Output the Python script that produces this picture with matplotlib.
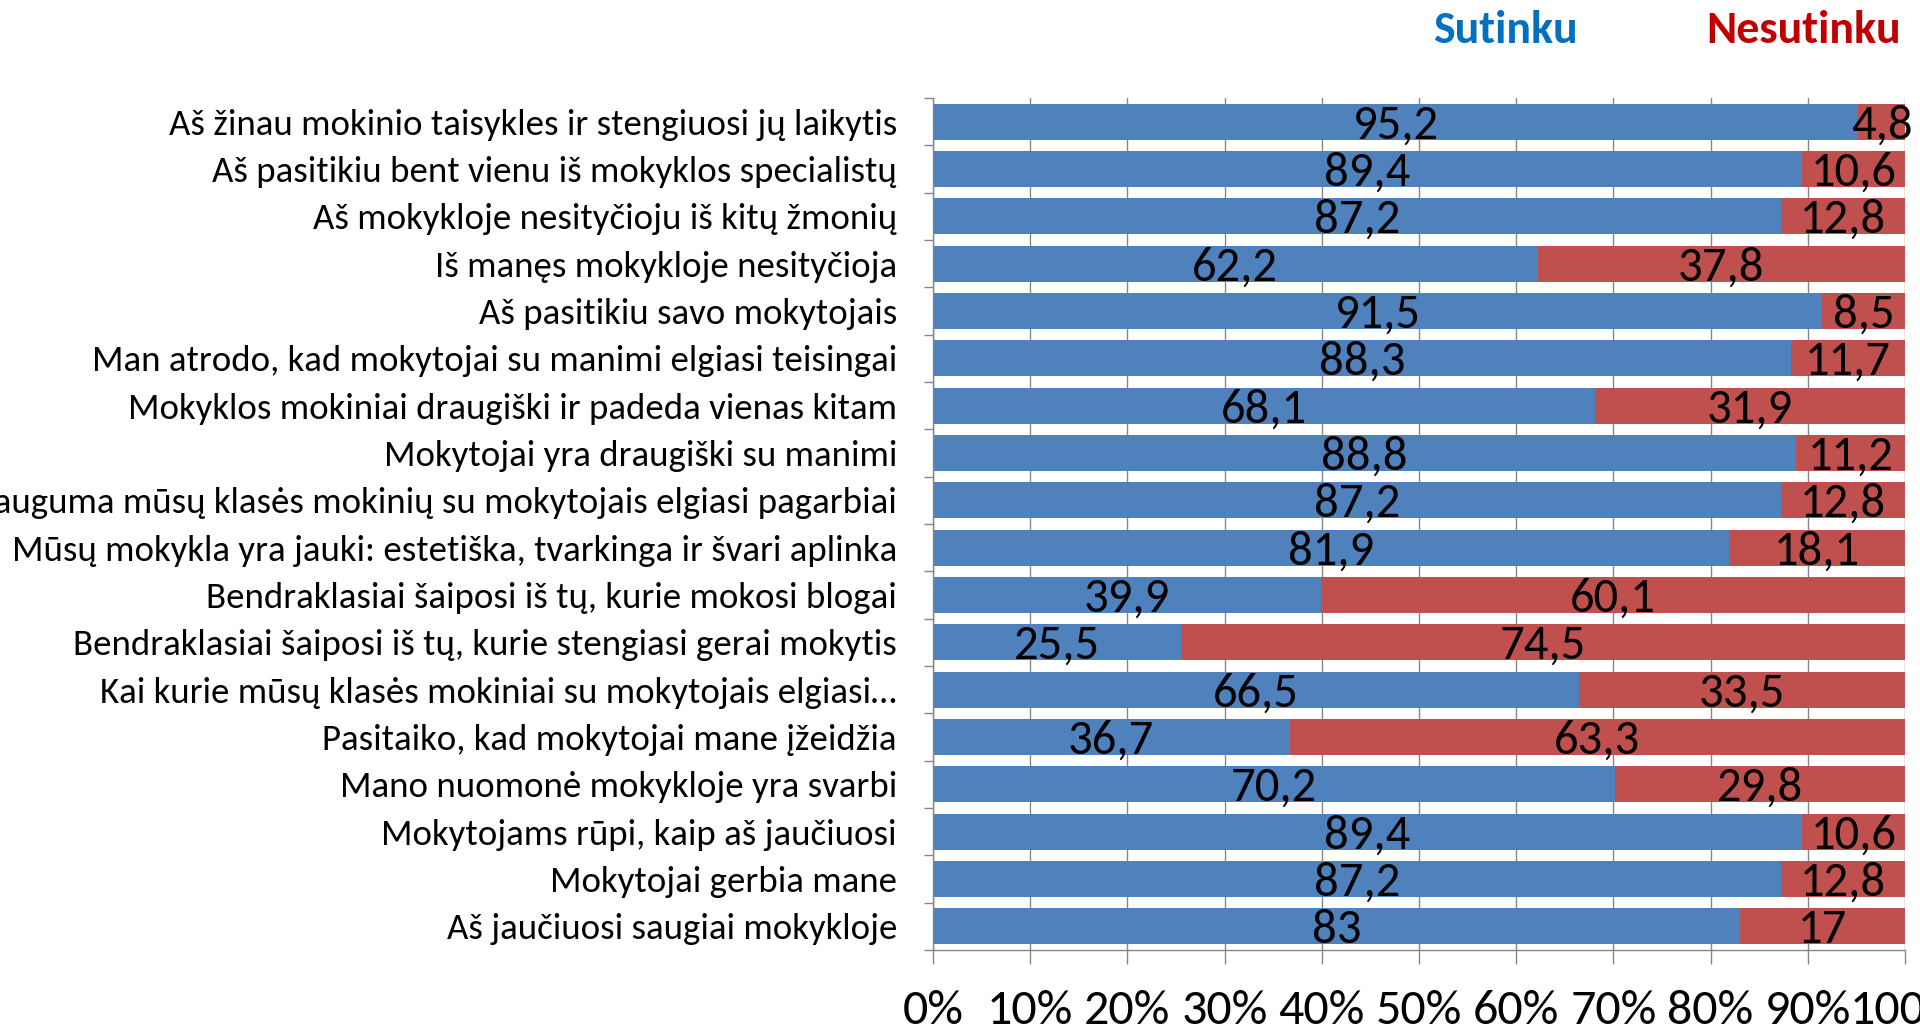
import matplotlib
matplotlib.use("Agg")
import matplotlib.pyplot as plt
from matplotlib import font_manager

# categories top -> bottom, as in the reference
labels = [
    "Aš žinau mokinio taisykles ir stengiuosi jų laikytis",
    "Aš pasitikiu bent vienu iš mokyklos specialistų",
    "Aš mokykloje nesityčioju iš kitų žmonių",
    "Iš manęs mokykloje nesityčioja",
    "Aš pasitikiu savo mokytojais",
    "Man atrodo, kad mokytojai su manimi elgiasi teisingai",
    "Mokyklos mokiniai draugiški ir padeda vienas kitam",
    "Mokytojai yra draugiški su manimi",
    "Dauguma mūsų klasės mokinių su mokytojais elgiasi pagarbiai",
    "Mūsų mokykla yra jauki: estetiška, tvarkinga ir švari aplinka",
    "Bendraklasiai šaiposi iš tų, kurie mokosi blogai",
    "Bendraklasiai šaiposi iš tų, kurie stengiasi gerai mokytis",
    "Kai kurie mūsų klasės mokiniai su mokytojais elgiasi…",
    "Pasitaiko, kad mokytojai mane įžeidžia",
    "Mano nuomonė mokykloje yra svarbi",
    "Mokytojams rūpi, kaip aš jaučiuosi",
    "Mokytojai gerbia mane",
    "Aš jaučiuosi saugiai mokykloje",
]
sutinku = [95.2, 89.4, 87.2, 62.2, 91.5, 88.3, 68.1, 88.8, 87.2, 81.9,
           39.9, 25.5, 66.5, 36.7, 70.2, 89.4, 87.2, 83]
nesutinku = [4.8, 10.6, 12.8, 37.8, 8.5, 11.7, 31.9, 11.2, 12.8, 18.1,
             60.1, 74.5, 33.5, 63.3, 29.8, 10.6, 12.8, 17]
xticks = [0, 10, 20, 30, 40, 50, 60, 70, 80, 90, 100]

BLUE = "#4F81BD"
RED = "#C0504D"

installed = {f.name for f in font_manager.fontManager.ttflist}
narrow = "DejaVu Sans"
for name in ["Carlito", "Liberation Sans Narrow", "Roboto Condensed", "Open Sans", "Noto Sans"]:
    if name in installed:
        narrow = name
        break
plt.rcParams["font.family"] = [narrow, "DejaVu Sans"]
is_narrow = narrow in ("Carlito", "Liberation Sans Narrow", "Roboto Condensed")
lab_fs = 26.6 if is_narrow else 20
num_fs = 35 if is_narrow else 28
tick_fs = 36 if is_narrow else 29
legend_fs = 33 if is_narrow else 27


def fmt(v):
    s = f"{v:g}"
    return s.replace(".", ",")


fig = plt.figure(figsize=(19.2, 10.3), dpi=100)
ax = fig.add_axes([933 / 1920, 1 - 950 / 1030, (1905 - 933) / 1920, (950 - 98) / 1030])

y = list(range(len(labels)))
ax.barh(y, sutinku, height=0.76, color=BLUE, zorder=2)
ax.barh(y, nesutinku, left=sutinku, height=0.76, color=RED, zorder=2)

for i, (a, b) in enumerate(zip(sutinku, nesutinku)):
    ax.text(a / 2, i + 0.08, fmt(a), ha="center", va="center", fontsize=num_fs, color="black", zorder=3)
    ax.text(a + b / 2, i + 0.08, fmt(b), ha="center", va="center", fontsize=num_fs, color="black", zorder=3)

ax.set_ylim(len(labels) - 0.5, -0.5)
ax.set_xlim(0, 100)
ax.set_yticks(y)
ax.set_yticklabels(labels, fontsize=lab_fs)
ax.set_yticks([i - 0.5 for i in range(len(labels) + 1)], minor=True)
ax.tick_params(axis="y", which="major", length=0, pad=26)
ax.tick_params(axis="y", which="minor", length=6.5, color="#868686", width=1)
ax.set_xticks(xticks)
ax.set_xticklabels([f"{t}%" for t in xticks], fontsize=tick_fs)
ax.tick_params(axis="x", length=10, color="#868686", width=1, pad=19)
ax.grid(axis="x", color="#868686", lw=1, zorder=0)
ax.set_axisbelow(True)

for s in ["top", "right"]:
    ax.spines[s].set_visible(False)
for s in ["left", "bottom"]:
    ax.spines[s].set_color("#868686")
    ax.spines[s].set_linewidth(1)

fig.text(1505 / 1920, 1 - 30 / 1030, "Sutinku", ha="center", va="center",
         fontsize=legend_fs, fontweight="bold", color="#0070C0")
fig.text(1804 / 1920, 1 - 30 / 1030, "Nesutinku", ha="center", va="center",
         fontsize=legend_fs, fontweight="bold", color="#C00000")

fig.savefig("out.png", dpi=100)
